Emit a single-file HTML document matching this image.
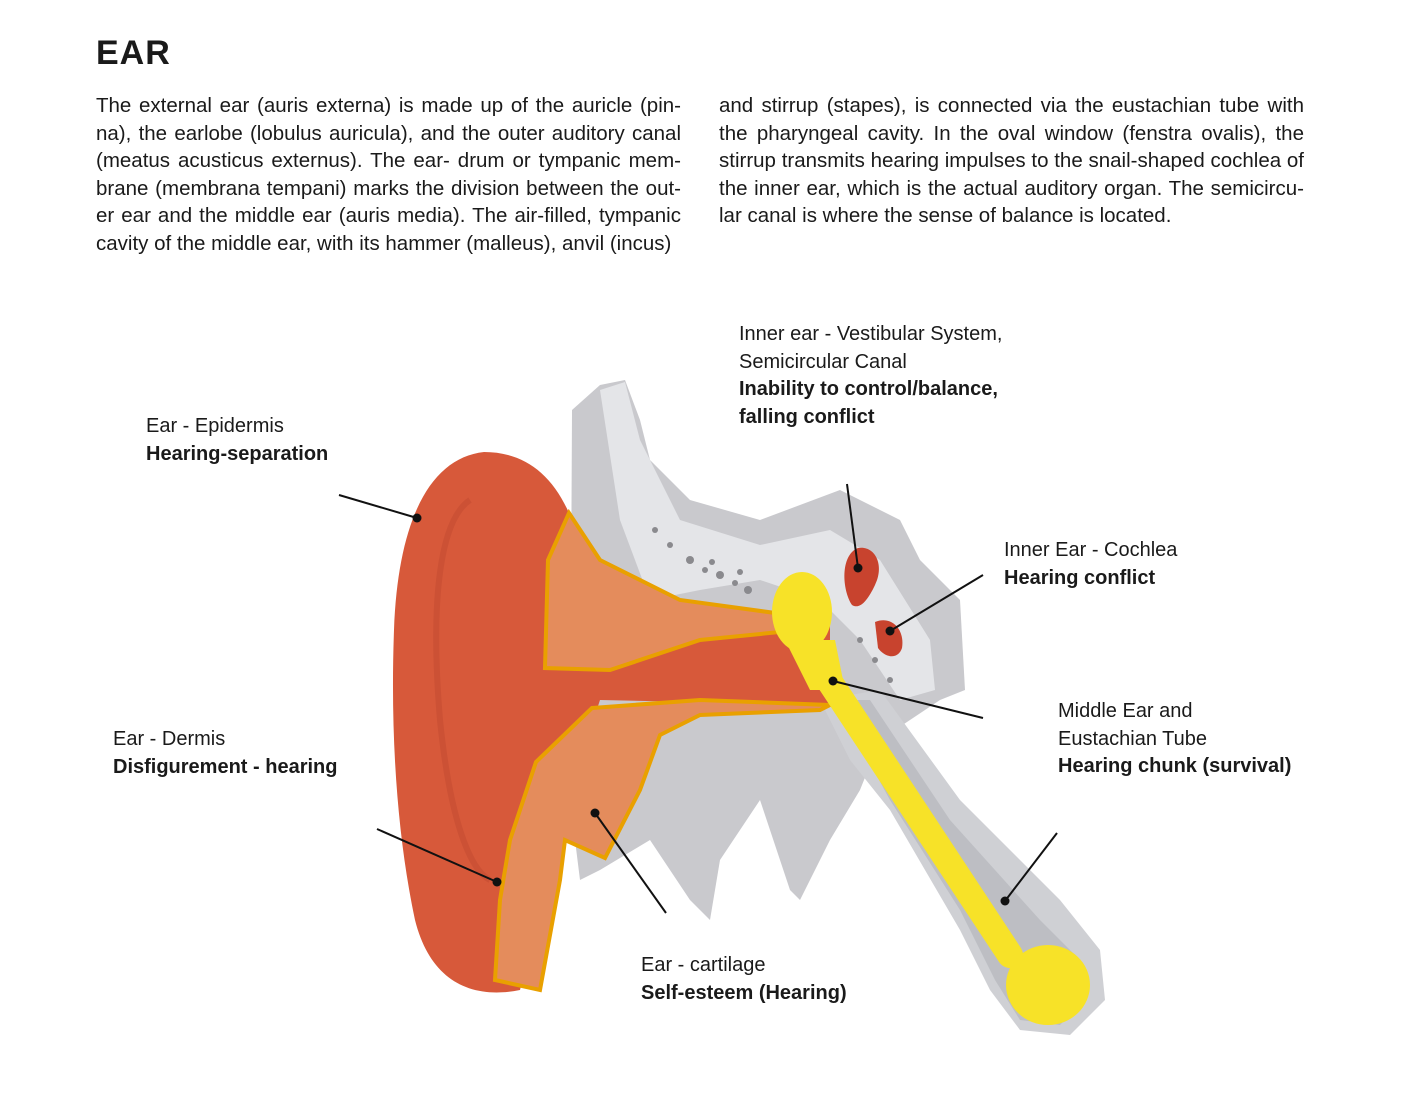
<!DOCTYPE html>
<html><head><meta charset="utf-8"><style>
body{margin:0;width:1401px;height:1119px;background:#fff;font-family:"Liberation Sans",sans-serif;color:#1a1a1a;position:relative;overflow:hidden}
h1{position:absolute;left:96px;top:34px;margin:0;font-size:34px;font-weight:bold;letter-spacing:1px}
.col{position:absolute;top:92px;width:585px;font-size:20.5px;line-height:27.6px;text-align:justify}
.lab{position:absolute;font-size:20px;line-height:27.5px}
.lab b{font-weight:bold}
svg{position:absolute;left:0;top:0}
</style></head><body>
<h1>EAR</h1>
<div class="col" style="left:96px">The external ear (auris externa) is made up of the auricle (pin-na), the earlobe (lobulus auricula), and the outer auditory canal (meatus acusticus externus). The ear- drum or tympanic mem-brane (membrana tempani) marks the division between the out-er ear and the middle ear (auris media). The air-filled, tympanic cavity of the middle ear, with its hammer (malleus), anvil (incus)</div>
<div class="col" style="left:719px">and stirrup (stapes), is connected via the eustachian tube with the pharyngeal cavity. In the oval window (fenstra ovalis), the stirrup transmits hearing impulses to the snail-shaped cochlea of the inner ear, which is the actual auditory organ. The semicircu-lar canal is where the sense of balance is located.</div>
<svg width="1401" height="1119" viewBox="0 0 1401 1119">
<!-- skull gray -->
<path d="M572,410 L600,385 L625,380 L640,420 L650,460 L690,500 L760,520 L840,490 L900,520 L920,560 L960,600 L965,690 L940,700 L880,740 L860,790 L830,840 L800,900 L790,890 L760,800 L720,860 L710,920 L690,900 L650,840 L600,870 L580,880 L570,800 Z" fill="#c9c9cd"/>
<path d="M600,390 L625,382 L640,440 L680,520 L760,545 L830,530 L880,560 L930,640 L935,690 L900,700 L860,640 L820,600 L760,580 L700,590 L650,600 L620,520 Z" fill="#e4e5e8"/>
<g fill="#8a8a8e"><circle cx="655" cy="530" r="3"/><circle cx="670" cy="545" r="3"/><circle cx="690" cy="560" r="4"/><circle cx="705" cy="570" r="3"/><circle cx="720" cy="575" r="4"/><circle cx="735" cy="583" r="3"/><circle cx="748" cy="590" r="4"/><circle cx="712" cy="562" r="3"/><circle cx="740" cy="572" r="3"/><circle cx="860" cy="640" r="3"/><circle cx="875" cy="660" r="3"/><circle cx="890" cy="680" r="3"/></g>
<!-- gray tube -->
<path d="M820,700 L880,690 L960,800 L1060,900 L1100,950 L1105,1000 L1070,1035 L1020,1030 L990,990 L960,930 L890,810 L850,760 Z" fill="#cfd0d4"/>
<path d="M835,700 L870,700 L950,820 L1040,920 L1080,960 L1085,1000 L1060,1025 L1020,1020 L995,980 L960,910 L890,800 Z" fill="#bdbec3"/>
<!-- red auricle -->
<path d="M484,452 C430,458 398,520 394,630 C390,740 398,840 415,920 C430,980 470,1000 520,990 L560,820 L600,700 L830,705 L830,620 L600,610 L569,513 C550,470 520,452 484,452 Z" fill="#d7593a"/>
<path d="M470,500 C440,520 430,600 440,720 C450,820 470,870 490,880" fill="none" stroke="#c24a2f" stroke-width="6" opacity=".5"/>
<!-- upper orange cone -->
<path d="M569,513 L600,560 L680,600 L790,615 L800,630 L700,640 L610,670 L545,668 L548,560 Z" fill="#e48c5c" stroke="#e9a000" stroke-width="4"/>
<!-- lower orange -->
<path d="M592,708 L700,700 L830,705 L820,710 L700,715 L660,735 L640,790 L605,858 L565,840 L560,880 L540,990 L495,980 L500,900 L510,840 L536,762 Z" fill="#e48c5c" stroke="#e9a000" stroke-width="4"/>
<!-- yellow -->
<g fill="#f7e228" stroke="#f7e228">
<line x1="822" y1="670" x2="1010" y2="955" stroke-width="26" stroke-linecap="round"/>
<ellipse cx="802" cy="612" rx="30" ry="40" stroke="none"/>
<path d="M785,640 L835,640 L845,690 L810,690 Z" stroke="none"/>
<ellipse cx="1048" cy="985" rx="42" ry="40" stroke="none"/>
</g>
<!-- cochlea red -->
<path d="M858,548 C875,545 885,565 875,585 C868,600 860,610 852,605 C842,590 840,555 858,548 Z" fill="#c8432e"/>
<path d="M875,622 C892,615 905,630 902,648 C898,660 885,658 878,648 Z" fill="#c8432e"/>
<g stroke="#111" stroke-width="2"><line x1="339" y1="495" x2="417" y2="518"/><line x1="847" y1="484" x2="858" y2="568"/><line x1="983" y1="575" x2="890" y2="631"/><line x1="983" y1="718" x2="833" y2="681"/><line x1="377" y1="829" x2="497" y2="882"/><line x1="595" y1="813" x2="666" y2="913"/><line x1="1057" y1="833" x2="1005" y2="901"/></g>
<g fill="#111"><circle cx="417" cy="518" r="4.5"/><circle cx="858" cy="568" r="4.5"/><circle cx="890" cy="631" r="4.5"/><circle cx="833" cy="681" r="4.5"/><circle cx="497" cy="882" r="4.5"/><circle cx="595" cy="813" r="4.5"/><circle cx="1005" cy="901" r="4.5"/></g>
</svg>
<div class="lab" style="left:146px;top:413px">Ear - Epidermis<br><b>Hearing-separation</b></div>
<div class="lab" style="left:739px;top:321px">Inner ear - Vestibular System,<br>Semicircular Canal<br><b>Inability to control/balance,<br>falling conflict</b></div>
<div class="lab" style="left:1004px;top:537px">Inner Ear - Cochlea<br><b>Hearing conflict</b></div>
<div class="lab" style="left:1058px;top:698px">Middle Ear and<br>Eustachian Tube<br><b>Hearing chunk (survival)</b></div>
<div class="lab" style="left:113px;top:726px">Ear - Dermis<br><b>Disfigurement - hearing</b></div>
<div class="lab" style="left:641px;top:952px">Ear - cartilage<br><b>Self-esteem (Hearing)</b></div>
</body></html>
